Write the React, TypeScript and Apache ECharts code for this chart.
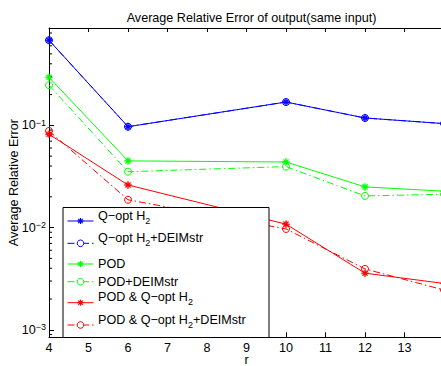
import React, { useEffect, useRef } from "react";
import * as echarts from "echarts";

const FONT = "Liberation Sans";
const FS = 12.6;

const rValues = [4, 6, 10, 12, 14];
const qoptH2 = [0.68, 0.097, 0.169, 0.118, 0.104];
const qoptH2Deim = [0.68, 0.097, 0.169, 0.118, 0.104];
const pod = [0.295, 0.0449, 0.0438, 0.025, 0.0227];
const podDeim = [0.247, 0.0352, 0.0395, 0.0204, 0.0212];
const podQopt = [0.0818, 0.0261, 0.0108, 0.00358, 0.00284];
const podQoptDeim = [0.0882, 0.0187, 0.0097, 0.00394, 0.00245];

const seriesNames = [
  "Q−opt H2",
  "Q−opt H2+DEIMstr",
  "POD",
  "POD+DEIMstr",
  "POD & Q−opt H2",
  "POD & Q−opt H2+DEIMstr",
];

const minorTickValues = [
  0.0009, 0.002, 0.003, 0.004, 0.005, 0.006, 0.007, 0.008, 0.009, 0.02, 0.03,
  0.04, 0.05, 0.06, 0.07, 0.08, 0.09, 0.2, 0.3, 0.4, 0.5, 0.6, 0.7, 0.8,
];

const xTicks = [4, 5, 6, 7, 8, 9, 10, 11, 12, 13];

const BLUE = "#0000ff";
const GREEN = "#00ff00";
const RED = "#ff0000";
const DASHDOT = [7, 3, 1.5, 3];
const STAR =
  "path://M4.3,0L5.7,0L5.7,10L4.3,10Z M0,4.3L10,4.3L10,5.7L0,5.7Z M1,2L2,1L9,8L8,9Z M8,1L9,2L2,9L1,8Z";

const seriesColors = [BLUE, BLUE, GREEN, GREEN, RED, RED];
const seriesIsDeim = [false, true, false, true, false, true];
const seriesValues = [qoptH2, qoptH2Deim, pod, podDeim, podQopt, podQoptDeim];

function mkSeries(i: number) {
  const color = seriesColors[i];
  const deim = seriesIsDeim[i];
  return {
    type: "line",
    name: seriesNames[i],
    data: rValues.map((r, k) => [r, seriesValues[i][k]]),
    symbol: deim ? "circle" : STAR,
    symbolSize: 7,
    showAllSymbol: true,
    lineStyle: { color, width: 1, type: deim ? DASHDOT : "solid" },
    itemStyle: deim
      ? { color: "rgba(0,0,0,0)", borderColor: color, borderWidth: 1 }
      : { color, borderColor: color, borderWidth: 0.4 },
    z: 2,
  };
}

// legend layout (pixels)
const LEG_LINE_Y = [221, 243.3, 264, 281.7, 302.7, 325];
const LEG_X0 = 67.5;
const LEG_X1 = 93.5;
const LEG_MX = 80.5;
const LEG_TX = 98;

function legendGraphics() {
  const els: any[] = [
    {
      type: "rect",
      z: 10,
      shape: { x: 63, y: 207.5, width: 206, height: 130 },
      style: { fill: "#ffffff", stroke: "#000000", lineWidth: 1 },
    },
  ];
  seriesNames.forEach((name, i) => {
    const y = LEG_LINE_Y[i];
    const color = seriesColors[i];
    const deim = seriesIsDeim[i];
    els.push({
      type: "line",
      z: 11,
      shape: { x1: LEG_X0, y1: y, x2: LEG_X1, y2: y },
      style: { stroke: color, lineWidth: 1, lineDash: deim ? DASHDOT : null },
    });
    if (deim) {
      els.push({
        type: "circle",
        z: 12,
        shape: { cx: LEG_MX, cy: y, r: 3.3 },
        style: { fill: "#ffffff", stroke: color, lineWidth: 1 },
      });
    } else {
      const d = 3;
      const d2 = 2.2;
      [
        [0, -d, 0, d],
        [-d, 0, d, 0],
        [-d2, -d2, d2, d2],
        [-d2, d2, d2, -d2],
      ].forEach((s) =>
        els.push({
          type: "line",
          z: 12,
          shape: { x1: LEG_MX + s[0], y1: y + s[1], x2: LEG_MX + s[2], y2: y + s[3] },
          style: { stroke: color, lineWidth: 1.2 },
        })
      );
    }
    const parts = name.split("H2");
    if (parts.length === 1) {
      els.push({
        type: "text",
        z: 12,
        style: {
          text: name,
          x: LEG_TX,
          y: y,
          fill: "#000",
          fontSize: FS,
          fontFamily: FONT,
          align: "left",
          verticalAlign: "middle",
        },
      });
    } else {
      const rich = parts.map((p) => "{n|" + p + "}").join("{n|H}{s|2}");
      els.push({
        type: "text",
        z: 12,
        style: {
          text: rich,
          x: LEG_TX,
          y: y - 5 - 7,
          fill: "#000",
          fontSize: FS,
          fontFamily: FONT,
          align: "left",
          verticalAlign: "top",
          rich: {
            n: { fontSize: FS, fontFamily: FONT, fill: "#000", lineHeight: 14, verticalAlign: "top" },
            s: { fontSize: 9, fontFamily: FONT, fill: "#000", lineHeight: 9, padding: [7.2, 0, 0, 0], verticalAlign: "top" },
          },
        },
      });
    }
  });
  return els;
}

export default function App() {
  const ref = useRef<HTMLDivElement>(null);
  useEffect(() => {
    if (!ref.current) return;
    const chart = echarts.init(ref.current, null, { renderer: "svg" });
    const option: any = {
      animation: false,
      backgroundColor: "#ffffff",
      textStyle: { fontFamily: FONT },
      title: {
        text: "Average Relative Error of output(same input)",
        left: 246.5,
        textAlign: "center",
        top: 6.5,
        textStyle: { fontSize: FS, fontWeight: "normal", fontFamily: FONT, color: "#000" },
      },
      grid: {
        left: 49,
        top: 28,
        right: -3,
        bottom: 28.7,
        containLabel: false,
        outerBoundsMode: "none",
      },
      xAxis: [
        {
          type: "value",
          min: 4,
          max: 14,
          interval: 1,
          name: "r",
          nameLocation: "middle",
          nameGap: 17.5,
          nameMoveOverlap: false,
          nameTextStyle: { fontSize: FS, fontFamily: FONT, color: "#000", lineHeight: 11 },
          axisLine: { lineStyle: { color: "#000", width: 1 } },
          axisTick: { inside: true, length: 5, lineStyle: { color: "#000" } },
          axisLabel: {
            fontSize: FS,
            fontFamily: FONT,
            color: "#000",
            margin: 4,
            lineHeight: 13,
            formatter: (v: number) => (xTicks.indexOf(v) >= 0 ? String(v) : ""),
          },
          splitLine: { show: false },
        },
        {
          type: "value",
          position: "top",
          min: 4,
          max: 14,
          interval: 1,
          axisLine: { lineStyle: { color: "#000", width: 1 } },
          axisTick: { inside: true, length: 4, lineStyle: { color: "#000" } },
          axisLabel: { show: false },
          splitLine: { show: false },
        },
      ],
      yAxis: {
        type: "log",
        logBase: 10,
        min: 0.000845,
        max: 0.8956,
        name: "Average Relative Error",
        nameLocation: "middle",
        nameGap: 29,
        nameMoveOverlap: false,
        nameTextStyle: { fontSize: FS, fontFamily: FONT, color: "#000" },
        axisLine: { show: true, lineStyle: { color: "#000", width: 1 } },
        axisTick: { inside: true, length: 5, lineStyle: { color: "#000" } },
        splitLine: { show: false },
        axisLabel: {
          showMinLabel: false,
          showMaxLabel: false,
          margin: 3,
          color: "#000",
          fontFamily: FONT,
          formatter: (v: number) => {
            const e = Math.log10(v);
            const r = Math.round(e);
            if (Math.abs(e - r) > 1e-6) return "";
            return "{b|10}{e|" + (r < 0 ? "−" + -r : String(r)) + "}";
          },
          rich: {
            b: { fontSize: FS, fontFamily: FONT, color: "#000", lineHeight: 14, verticalAlign: "middle" },
            e: { fontSize: 9, fontFamily: FONT, color: "#000", lineHeight: 9, verticalAlign: "top", padding: [0, 0, 14, 0] },
          },
        },
      },
      graphic: legendGraphics(),
      series: [
        mkSeries(0),
        mkSeries(1),
        mkSeries(2),
        mkSeries(3),
        mkSeries(4),
        mkSeries(5),
        {
          type: "custom",
          silent: true,
          clip: false,
          z: 2,
          data: minorTickValues.map((v) => [4, v]),
          renderItem: (params: any, api: any) => {
            const p = api.coord([api.value(0), api.value(1)]);
            return {
              type: "line",
              shape: { x1: p[0], y1: p[1], x2: p[0] + 3, y2: p[1] },
              style: { stroke: "#000", lineWidth: 1 },
            };
          },
        },
      ],
    };
    chart.setOption(option);
    return () => chart.dispose();
  }, []);
  return <div ref={ref} style={{ width: 441, height: 366, position: "absolute", left: 0, top: 0 }} />;
}
